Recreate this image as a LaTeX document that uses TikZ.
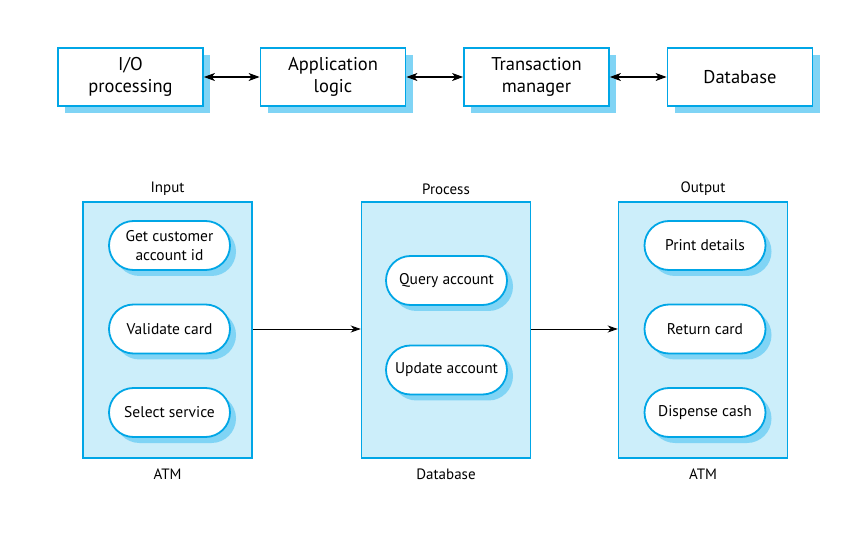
\documentclass[tikz,border=0pt]{standalone}
\usepackage{fontspec}
\setmainfont{PT Sans}
\usetikzlibrary{shapes.misc,shadows,arrows.meta}
\definecolor{bord}{RGB}{0,166,230}
\definecolor{shad}{RGB}{128,212,245}
\definecolor{fillb}{RGB}{204,238,250}
\tikzset{
  topbox/.style={draw=bord,line width=1.8pt,fill=white,minimum width=145pt,minimum height=58pt,
    align=center,font=\fontsize{18.5}{22.5}\selectfont,inner sep=0pt,
    drop shadow={shadow xshift=7pt,shadow yshift=-7pt,fill=shad,opacity=1}},
  group/.style={draw=bord,line width=1.5pt,fill=fillb,minimum width=169pt,minimum height=256pt,inner sep=0pt},
  stad/.style={rounded rectangle,draw=bord,line width=1.8pt,fill=white,minimum width=121pt,minimum height=49pt,
    align=center,font=\fontsize{15.5}{19}\selectfont,inner sep=0pt,
    drop shadow={shadow xshift=6pt,shadow yshift=-6pt,fill=shad,opacity=1}},
  lab/.style={font=\fontsize{15}{17}\selectfont},
  biarrow/.style={{Stealth[length=11pt,width=8pt,inset=3pt]}-{Stealth[length=11pt,width=8pt,inset=3pt]},line width=1.1pt},
  arr/.style={-{Stealth[length=10pt,width=7pt,inset=3pt]},line width=0.8pt}
}
\begin{document}
\begin{tikzpicture}[x=1pt,y=-1pt]
\useasboundingbox (0,0) rectangle (862,534);
\node[topbox] (io) at (130.5,77) {I/O\\processing};
\node[topbox] (app) at (333,77) {Application\\logic};
\node[topbox] (tm) at (536.5,77) {Transaction\\manager};
\node[topbox] (db) at (740,77) {Database};
\draw[biarrow] (io) -- (app);
\draw[biarrow] (app) -- (tm);
\draw[biarrow] (tm) -- (db);

\node[group] (in) at (167.5,330) {};
\node[group] (pr) at (446,330) {};
\node[group] (out) at (703,330) {};
\node[lab] (inl) at (167.5,189) {Input};
\node[lab] (prl) at (446,189) {Process};
\node[lab] (outl) at (703,189) {Output};
\node[lab] (ina) at (167.5,474) {ATM};
\node[lab] (pra) at (446,474) {Database};
\node[lab] (outa) at (703,474) {ATM};

\node[stad] (s1) at (169.5,245.5) {Get customer\\account id};
\node[stad] (s2) at (169.5,329) {Validate card};
\node[stad] (s3) at (169.5,412.5) {Select service};
\node[stad] (q1) at (446.5,280.5) {Query account};
\node[stad] (q2) at (446.5,370) {Update account};
\node[stad] (o1) at (705,245.5) {Print details};
\node[stad] (o2) at (705,329) {Return card};
\node[stad] (o3) at (705,412.5) {Dispense cash};

\draw[arr] (in.east |- s2) -- (pr.west |- s2);
\draw[arr] (pr.east |- s2) -- (out.west |- s2);
\end{tikzpicture}
\end{document}
